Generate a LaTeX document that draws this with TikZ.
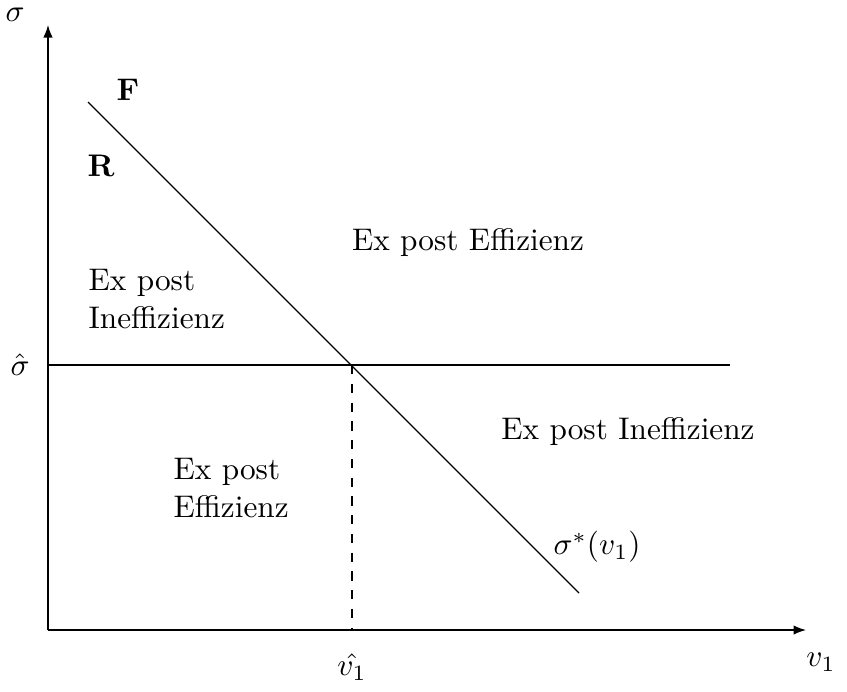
\documentclass[tikz,border=0pt]{standalone}
\usetikzlibrary{arrows.meta}
\begin{document}
\begin{tikzpicture}[x=0.32pt,y=-0.32pt,
  axis/.style={-{Latex[length=4pt,width=3pt]}},
  lbl/.style={inner sep=0pt},
  region/.style={inner sep=0pt,align=left}]
\useasboundingbox (0,0) rectangle (847,691);
\coordinate (O) at (48,630);
\coordinate (ytop) at (48,25);
\coordinate (xend) at (806,630);
\coordinate (hl) at (48,365);
\coordinate (hr) at (730,365);
\coordinate (dtop) at (88,102);
\coordinate (dbot) at (579,593);
\coordinate (X) at (352,365);
\coordinate (Xb) at (352,630);
\draw[axis] (O) -- (ytop);
\draw[axis] (O) -- (xend);
\draw (hl) -- (hr);
\draw (dtop) -- (dbot);
\draw[dashed] (X) -- (Xb);
\node[lbl] (sig) at (15,15) {$\sigma$};
\node[lbl] (sighat) at (20,365) {$\hat\sigma$};
\node[lbl] (v1hat) at (352,667) {$\hat{v_1}$};
\node[lbl] (v1) at (821,662) {$v_1$};
\node[lbl] (F) at (128,90) {$\mathbf{F}$};
\node[lbl] (R) at (101,166) {$\mathbf{R}$};
\node[lbl] (sstar) at (597,547) {$\sigma^*(v_1)$};
\node[region] (t1) at (468,243) {Ex post Effizienz};
\node[region,anchor=west] (t2) at (88,299) {Ex post\\Ineffizienz};
\node[region] (t3) at (628,432) {Ex post Ineffizienz};
\node[region,anchor=west] (t4) at (173,488) {Ex post\\Effizienz};
\end{tikzpicture}
\end{document}
